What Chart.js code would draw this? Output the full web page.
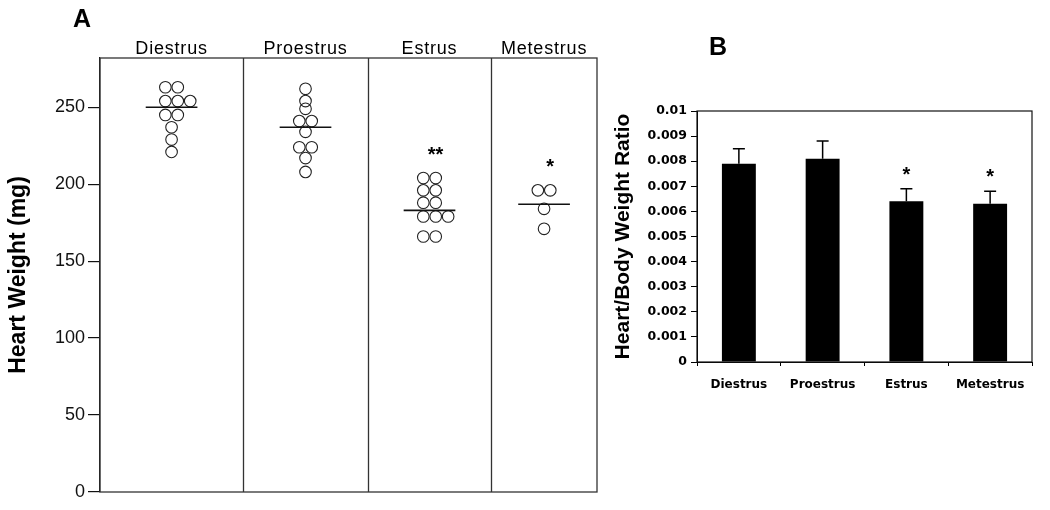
<!DOCTYPE html>
<html>
<head>
<meta charset="utf-8">
<script src="https://cdn.jsdelivr.net/npm/chart.js@4.4.1/dist/chart.umd.min.js"></script>
<style>
  html, body { margin: 0; padding: 0; background: #fff; }
  #wrap { position: relative; width: 1050px; height: 510px; overflow: hidden; }
  #chartA { position: absolute; left: 0; top: 0; }
  #chartB { position: absolute; left: 600px; top: 0; }
</style>
</head>
<body>
<div id="wrap">
  <canvas id="chartA" width="600" height="510"></canvas>
  <canvas id="chartB" width="450" height="510"></canvas>
</div>
<script>
// data
const stages = ["Diestrus", "Proestrus", "Estrus", "Metestrus"];
const diestrusWeights = [263, 263, 254, 254, 254, 245, 245, 237, 229, 221];
const proestrusWeights = [262, 254, 249, 241, 241, 234, 224, 224, 217, 208];
const estrusWeights = [204, 204, 196, 196, 188, 188, 179, 179, 179, 166, 166];
const metestrusWeights = [196, 196, 184, 171];
const meanWeights = [250, 237, 183, 187];
const weightSig = ["", "", "**", "*"];
const weightTicks = [0, 50, 100, 150, 200, 250];

const ratioMeans = [0.0079, 0.0081, 0.0064, 0.0063];
const ratioErrors = [0.0006, 0.0007, 0.0005, 0.0005];
const ratioSig = ["", "", "*", "*"];
const ratioTicks = [0, 0.001, 0.002, 0.003, 0.004, 0.005, 0.006, 0.007, 0.008, 0.009, 0.01];

const weightGroups = [diestrusWeights, proestrusWeights, estrusWeights, metestrusWeights];

// layout of panel A (x axis runs 0..100, columns are not equal width)
const colEdges = [0, 28.8, 53.9, 78.7, 100];
const dotStep = 2.5;
const meanHalf = 5.2;
const sans = "'Liberation Sans', Arial, sans-serif";
const blockFont = "'DejaVu Sans', sans-serif";

const colCenter = (i) => (colEdges[i] + colEdges[i + 1]) / 2;

// equal values go side by side in one row
function swarm(values, center) {
  const rows = new Map();
  values.forEach((v) => {
    if (!rows.has(v)) rows.set(v, []);
    rows.get(v).push(v);
  });
  const pts = [];
  rows.forEach((row) => {
    row.forEach((v, i) => {
      const off = row.length > 1 ? (i - 0.5) * dotStep : 0;
      pts.push({ x: center + off, y: v });
    });
  });
  return pts;
}

const dotSets = weightGroups.map((vals, i) => ({
  type: "scatter",
  data: swarm(vals, colCenter(i)),
  pointStyle: "circle",
  pointRadius: 5.8,
  borderWidth: 1.1,
  borderColor: "#222",
  backgroundColor: "rgba(0,0,0,0)",
  order: 2,
}));

const meanSets = meanWeights.map((m, i) => ({
  type: "line",
  data: [
    { x: colCenter(i) - meanHalf, y: m },
    { x: colCenter(i) + meanHalf, y: m },
  ],
  borderColor: "#111",
  borderWidth: 1.6,
  pointRadius: 0,
  order: 1,
}));

const panelAPlugin = {
  id: "panelA",
  afterDatasetsDraw(chart) {
    const { ctx, chartArea, scales } = chart;
    const x = scales.x;
    const y = scales.y;
    ctx.save();
    ctx.strokeStyle = "#333";
    ctx.lineWidth = 1.3;
    ctx.strokeRect(chartArea.left, chartArea.top, chartArea.right - chartArea.left, chartArea.bottom - chartArea.top);
    colEdges.slice(1, -1).forEach((e) => {
      const px = Math.round(x.getPixelForValue(e)) + 0.5;
      ctx.beginPath();
      ctx.moveTo(px, chartArea.top);
      ctx.lineTo(px, chartArea.bottom);
      ctx.stroke();
    });
    ctx.fillStyle = "#000";
    ctx.textAlign = "center";
    ctx.textBaseline = "alphabetic";
    ctx.font = "18px " + sans;
    ctx.letterSpacing = "0.8px";
    stages.forEach((s, i) => {
      ctx.fillText(s, x.getPixelForValue(colCenter(i)), chartArea.top - 4);
    });
    ctx.letterSpacing = "0px";
    ctx.font = "bold 20px " + sans;
    weightSig.forEach((s, i) => {
      if (!s) return;
      const top = Math.max(...weightGroups[i]);
      ctx.fillText(s, x.getPixelForValue(colCenter(i)) + 6, y.getPixelForValue(top) - 17);
    });
    ctx.textAlign = "left";
    ctx.font = "bold 25px " + sans;
    ctx.fillText("A", chartArea.left - 27, chartArea.top - 31);
    ctx.restore();
  },
};

new Chart(document.getElementById("chartA"), {
  data: { datasets: [...meanSets, ...dotSets] },
  options: {
    responsive: false,
    animation: false,
    layout: { autoPadding: false, padding: { top: 58, right: 3, bottom: 18, left: 0 } },
    plugins: { legend: { display: false }, tooltip: { enabled: false } },
    scales: {
      x: { type: "linear", min: 0, max: 100, display: false },
      y: {
        type: "linear",
        min: 0,
        max: 282,
        afterBuildTicks: (scale) => {
          scale.ticks = weightTicks.map((v) => ({ value: v }));
        },
        afterFit: (scale) => {
          scale.width = 100;
        },
        ticks: { color: "#111", font: { family: sans, size: 18 }, padding: 3 },
        grid: { drawOnChartArea: false, tickLength: 12, color: "#111", lineWidth: 1.2 },
        border: { display: true, color: "#111", width: 1.2 },
        title: {
          display: true,
          text: "Heart Weight (mg)",
          color: "#000",
          font: { family: sans, size: 23, weight: "bold" },
          padding: { top: 5, bottom: 0 },
        },
      },
    },
  },
  plugins: [panelAPlugin],
});

const panelBPlugin = {
  id: "panelB",
  afterDatasetsDraw(chart) {
    const { ctx, chartArea, scales } = chart;
    const y = scales.y;
    const bars = chart.getDatasetMeta(0).data;
    ctx.save();
    ctx.strokeStyle = "#000";
    ctx.lineWidth = 1.5;
    bars.forEach((bar, i) => {
      const top = y.getPixelForValue(ratioMeans[i] + ratioErrors[i]);
      ctx.beginPath();
      ctx.moveTo(bar.x, bar.y);
      ctx.lineTo(bar.x, top);
      ctx.moveTo(bar.x - 6, top);
      ctx.lineTo(bar.x + 6, top);
      ctx.stroke();
      if (ratioSig[i]) {
        ctx.fillStyle = "#000";
        ctx.font = "bold 20px " + sans;
        ctx.textAlign = "center";
        ctx.textBaseline = "alphabetic";
        ctx.fillText(ratioSig[i], bar.x, top - 8);
      }
    });
    ctx.lineWidth = 1.2;
    ctx.strokeStyle = "#111";
    ctx.strokeRect(chartArea.left, chartArea.top, chartArea.right - chartArea.left, chartArea.bottom - chartArea.top);
    ctx.fillStyle = "#000";
    ctx.textAlign = "left";
    ctx.font = "bold 25px " + sans;
    ctx.fillText("B", chartArea.left + 12, chartArea.top - 56);
    ctx.restore();
  },
};

new Chart(document.getElementById("chartB"), {
  type: "bar",
  data: {
    labels: stages,
    datasets: [
      {
        data: ratioMeans,
        backgroundColor: "#000",
        borderWidth: 0,
        barPercentage: 0.405,
        categoryPercentage: 1,
      },
    ],
  },
  options: {
    responsive: false,
    animation: false,
    layout: { padding: { top: 111, right: 18, bottom: 0, left: 0 } },
    plugins: { legend: { display: false }, tooltip: { enabled: false } },
    scales: {
      x: {
        afterFit: (scale) => {
          scale.height = 148;
        },
        ticks: { color: "#000", font: { family: blockFont, size: 12, weight: "bold" }, padding: 12 },
        grid: { drawOnChartArea: false, tickLength: 4, color: "#000", offset: true },
        border: { display: true, color: "#000" },
      },
      y: {
        min: 0,
        max: 0.01,
        afterBuildTicks: (scale) => {
          scale.ticks = ratioTicks.map((v) => ({ value: v }));
        },
        afterFit: (scale) => {
          scale.width = 97;
        },
        ticks: {
          color: "#000",
          font: { family: blockFont, size: 12.5, weight: "bold" },
          padding: 4,
          callback: (v) => String(+v.toFixed(3)),
        },
        grid: { drawOnChartArea: false, tickLength: 6, color: "#000" },
        border: { display: true, color: "#000" },
        title: {
          display: true,
          text: "Heart/Body Weight Ratio",
          color: "#000",
          font: { family: sans, size: 21, weight: "bold" },
          padding: { top: 11, bottom: 0 },
        },
      },
    },
  },
  plugins: [panelBPlugin],
});
</script>
</body>
</html>
